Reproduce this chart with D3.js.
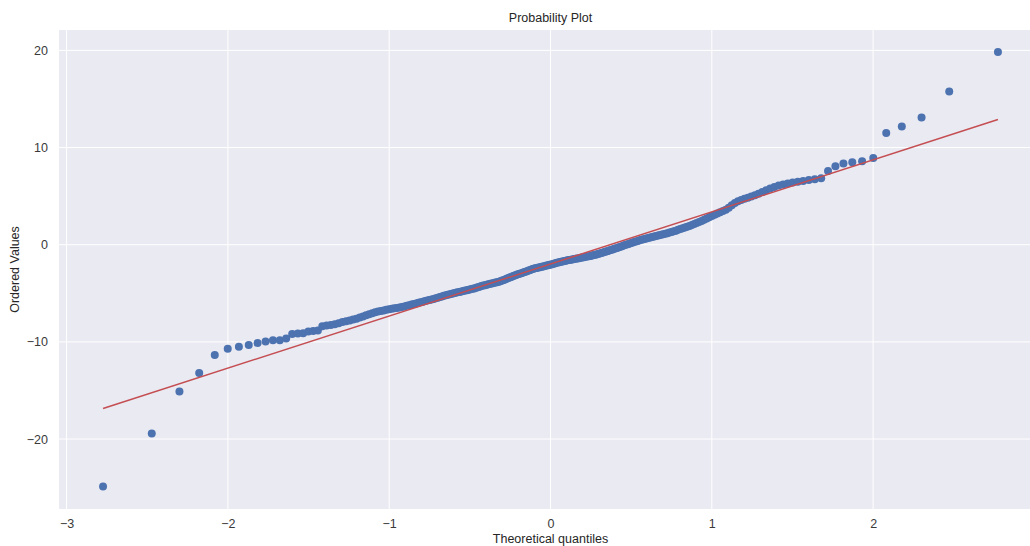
<!DOCTYPE html>
<html><head><meta charset="utf-8">
<script src="https://cdn.jsdelivr.net/npm/d3@7"></script>
<style>body{margin:0;background:#fff;} svg{display:block;}</style>
</head><body>
<svg id="chart" width="1030" height="546"></svg>
<script>
// Ordered sample values, rank 1..250
const orderedValues = [
  -24.88,-19.43,-15.1,-13.2,-11.35,-10.7,-10.5,-10.33,-10.12,-9.95,
  -9.84,-9.84,-9.66,-9.18,-9.13,-9.1,-8.93,-8.88,-8.82,
  -8.40,-8.32,-8.25,-8.18,-8.08,-7.95,
  -7.88,-7.8,-7.7,-7.62,-7.5,
  -7.38,-7.25,-7.15,-7.05,-6.95,
  -6.88,-6.82,-6.76,-6.7,-6.65,
  -6.6,-6.55,-6.5,-6.45,-6.4,
  -6.35,-6.28,-6.22,-6.16,-6.1,
  -6.04,-5.98,-5.92,-5.86,-5.8,
  -5.75,-5.69,-5.63,-5.58,-5.52,
  -5.45,-5.39,-5.33,-5.26,-5.2,
  -5.15,-5.1,-5.05,-5.0,-4.95,
  -4.9,-4.86,-4.81,-4.77,-4.72,
  -4.68,-4.63,-4.59,-4.54,-4.5,
  -4.44,-4.38,-4.32,-4.26,-4.2,
  -4.16,-4.11,-4.07,-4.02,-3.98,
  -3.94,-3.9,-3.85,-3.81,-3.76,
  -3.69,-3.62,-3.55,-3.48,-3.4,
  -3.34,-3.27,-3.2,-3.14,-3.07,
  -3.01,-2.95,-2.9,-2.84,-2.78,
  -2.72,-2.66,-2.6,-2.53,-2.47,
  -2.43,-2.39,-2.35,-2.31,-2.27,
  -2.23,-2.19,-2.15,-2.11,-2.07,
  -2.03,-1.98,-1.93,-1.89,-1.84,-1.8,
  -1.76,-1.72,-1.68,-1.64,-1.6,
  -1.57,-1.54,-1.51,-1.48,-1.45,
  -1.42,-1.38,-1.35,-1.31,-1.28,
  -1.25,-1.22,-1.19,-1.15,-1.12,
  -1.07,-1.02,-0.98,-0.93,-0.88,
  -0.82,-0.77,-0.71,-0.66,-0.6,
  -0.54,-0.48,-0.42,-0.36,-0.3,
  -0.24,-0.17,-0.11,-0.04,0.02,
  0.08,0.14,0.2,0.27,0.33,
  0.39,0.45,0.5,0.56,0.62,
  0.67,0.72,0.78,0.83,0.88,
  0.93,0.98,1.02,1.07,1.12,
  1.18,1.25,1.31,1.38,1.45,
  1.53,1.61,1.69,1.77,1.85,
  1.94,2.04,2.13,2.23,2.33,
  2.45,2.57,2.7,2.82,2.95,
  3.08,3.21,3.34,3.47,3.6,
  3.8,4.05,4.3,4.48,4.6,
  4.72,4.84,4.96,5.1,5.25,
  5.42,5.6,5.78,5.95,6.1,
  6.2,6.3,6.4,
  6.47,6.57,6.65,6.75,6.85,7.6,8.08,8.35,8.49,8.59,8.93,
  11.49,12.17,13.09,15.78,19.84
];
// Fitted line
const fitSlope = 5.36;
const fitIntercept = -1.98;
const xTicks = [-3,-2,-1,0,1,2];
const yTicks = [-20,-10,0,10,20];
const xDomain = [-3.047, 3.047];
const yDomain = [-27.2, 22.1];

// inverse normal CDF (Acklam)
function normInv(p){
  const a=[-3.969683028665376e+01,2.209460984245205e+02,-2.759285104469687e+02,1.383577518672690e+02,-3.066479806614716e+01,2.506628277459239e+00];
  const b=[-5.447609879822406e+01,1.615858368580409e+02,-1.556989798598866e+02,6.680131188771972e+01,-1.328068155288572e+01];
  const c=[-7.784894002430293e-03,-3.223964580411365e-01,-2.400758277161838e+00,-2.549732539343734e+00,4.374664141464968e+00,2.938163982698783e+00];
  const d=[7.784695709041462e-03,3.224671290700398e-01,2.445134137142996e+00,3.754408661907416e+00];
  const pl=0.02425;
  let q,r;
  if(p<pl){q=Math.sqrt(-2*Math.log(p));return (((((c[0]*q+c[1])*q+c[2])*q+c[3])*q+c[4])*q+c[5])/((((d[0]*q+d[1])*q+d[2])*q+d[3])*q+1);}
  if(p>1-pl){q=Math.sqrt(-2*Math.log(1-p));return -(((((c[0]*q+c[1])*q+c[2])*q+c[3])*q+c[4])*q+c[5])/((((d[0]*q+d[1])*q+d[2])*q+d[3])*q+1);}
  q=p-0.5;r=q*q;
  return (((((a[0]*r+a[1])*r+a[2])*r+a[3])*r+a[4])*r+a[5])*q/(((((b[0]*r+b[1])*r+b[2])*r+b[3])*r+b[4])*r+1);
}
// Filliben order statistic medians (as in scipy.stats.probplot)
const n = orderedValues.length;
const theo = orderedValues.map((v,i)=>{
  let m;
  if(i===n-1) m=Math.pow(0.5,1/n);
  else if(i===0) m=1-Math.pow(0.5,1/n);
  else m=(i+1-0.3175)/(n+0.365);
  return normInv(m);
});
const pts = orderedValues.map((v,i)=>({x:theo[i],y:v}));

const L=59,R=1042,T=30,B=509;
const svg=d3.select('#chart');
const x=d3.scaleLinear().domain(xDomain).range([L,R]);
const y=d3.scaleLinear().domain(yDomain).range([B,T]);
const font='"Liberation Sans", Arial, sans-serif';

svg.append('rect').attr('x',L).attr('y',T).attr('width',R-L).attr('height',B-T).attr('fill','#EAEAF2');
const g=svg.append('g');
g.selectAll('.gx').data(xTicks).join('line').attr('x1',d=>x(d)).attr('x2',d=>x(d)).attr('y1',T).attr('y2',B).attr('stroke','#fff').attr('stroke-width',1);
g.selectAll('.gy').data(yTicks).join('line').attr('y1',d=>y(d)).attr('y2',d=>y(d)).attr('x1',L).attr('x2',R).attr('stroke','#fff').attr('stroke-width',1);

const fmt=d=>d<0?'\u2212'+Math.abs(d):String(d);
const xa=svg.append('g').attr('transform',`translate(0,${B})`).call(d3.axisBottom(x).tickValues(xTicks).tickFormat(fmt).tickSize(0).tickPadding(10));
const ya=svg.append('g').attr('transform',`translate(${L},0)`).call(d3.axisLeft(y).tickValues(yTicks).tickFormat(fmt).tickSize(0).tickPadding(11));
[xa,ya].forEach(a=>{a.select('.domain').remove();a.selectAll('text').attr('font-family',font).attr('font-size',12.5).attr('fill','#3a3a3a');});

svg.append('g').selectAll('circle').data(pts).join('circle')
  .attr('cx',d=>x(d.x)).attr('cy',d=>y(d.y)).attr('r',4).attr('fill','#4C72B0');

const xe=d3.extent(theo);
svg.append('line').attr('x1',x(xe[0])).attr('y1',y(fitIntercept+fitSlope*xe[0]))
  .attr('x2',x(xe[1])).attr('y2',y(fitIntercept+fitSlope*xe[1]))
  .attr('stroke','#C44E52').attr('stroke-width',1.5);

svg.append('text').attr('x',(L+R)/2).attr('y',22).attr('text-anchor','middle').attr('font-family',font).attr('font-size',12.5).attr('fill','#262626').text('Probability Plot');
svg.append('text').attr('x',(L+R)/2).attr('y',543).attr('text-anchor','middle').attr('font-family',font).attr('font-size',12.5).attr('fill','#262626').text('Theoretical quantiles');
svg.append('text').attr('transform',`translate(19,${(T+B)/2}) rotate(-90)`).attr('text-anchor','middle').attr('font-family',font).attr('font-size',12.5).attr('fill','#262626').text('Ordered Values');
</script>
</body></html>
